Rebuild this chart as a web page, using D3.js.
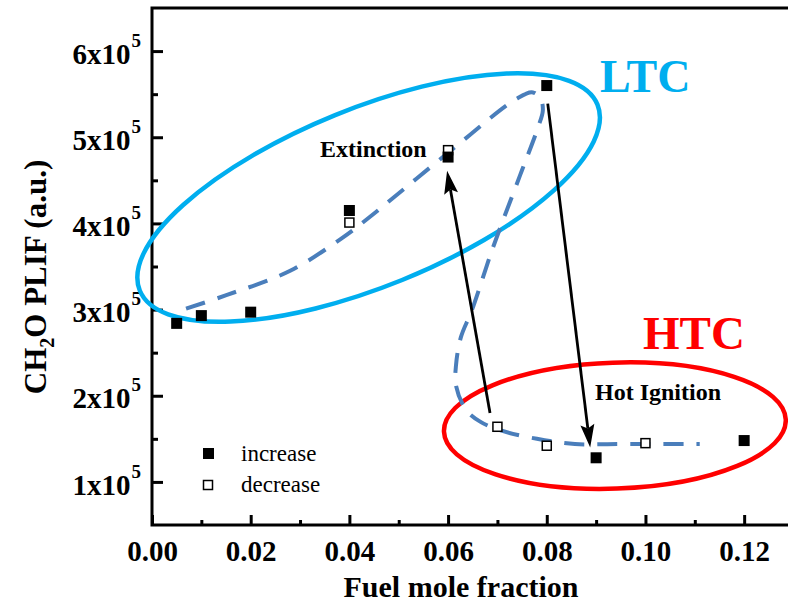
<!DOCTYPE html>
<html>
<head>
<meta charset="utf-8">
<script src="https://cdn.jsdelivr.net/npm/d3@7"></script>
<style>
  html, body { margin: 0; padding: 0; background: #fff; }
  svg { display: block; }
  text { font-family: "Liberation Serif", "Times New Roman", Times, serif; }
</style>
</head>
<body>
<div id="chart"></div>
<script>
// Fuel mole fraction (x) and CH2O PLIF signal (y)
const increaseX = [0.005, 0.01, 0.02, 0.04, 0.06, 0.08, 0.09, 0.12];
const increaseY = [2.84e5, 2.93e5, 2.97e5, 4.15e5, 4.77e5, 5.60e5, 1.28e5, 1.48e5];
const decreaseX = [0.04, 0.06, 0.07, 0.08, 0.10];
const decreaseY = [4.01e5, 4.85e5, 1.64e5, 1.42e5, 1.45e5];

// S-shaped response curve (hand-drawn guide)
const guideX = [0.0069, 0.0152, 0.0280, 0.0385, 0.0438, 0.0598, 0.0740, 0.0772, 0.0788, 0.0792,
                0.0782, 0.0746, 0.0691, 0.0648, 0.0626, 0.0616, 0.0616, 0.0636, 0.0665, 0.0705,
                0.0780, 0.0857, 0.0948, 0.1110];
const guideY = [3.01e5, 3.17e5, 3.45e5, 3.83e5, 4.06e5, 4.81e5, 5.45e5, 5.52e5, 5.44e5, 5.31e5,
                5.11e5, 4.56e5, 3.72e5, 2.99e5, 2.68e5, 2.35e5, 2.12e5, 1.84e5, 1.70e5, 1.60e5,
                1.50e5, 1.44e5, 1.44e5, 1.44e5];

// Jump arrows: [x0, y0, x1, y1]
const extinctionArrow = [0.0685, 1.80e5, 0.0598, 4.61e5];
const ignitionArrow = [0.0802, 5.39e5, 0.0888, 1.40e5];

const xTicks = [0, 0.02, 0.04, 0.06, 0.08, 0.10, 0.12];
const xMinorTicks = [0.01, 0.03, 0.05, 0.07, 0.09, 0.11];
const yTicks = [1, 2, 3, 4, 5, 6];
const yMinorTicks = [1.5, 2.5, 3.5, 4.5, 5.5];

const W = 788, H = 604;
const mLeft = 152, mTop = 8, mRight = 793.5, mBottom = 525;

const svg = d3.select("#chart").append("svg")
  .attr("width", W).attr("height", H);

const x = d3.scaleLinear().domain([0, 0.13]).range([mLeft, mRight]);
const y = d3.scaleLinear().domain([0.5e5, 6.5e5]).range([mBottom, mTop]);

// Frame
svg.append("rect")
  .attr("x", mLeft).attr("y", mTop)
  .attr("width", mRight - mLeft).attr("height", mBottom - mTop)
  .attr("fill", "none").attr("stroke", "#000").attr("stroke-width", 3);

// X axis
const xAxis = svg.append("g").attr("transform", `translate(0,${mBottom})`)
  .call(d3.axisBottom(x).tickValues(xTicks).tickSize(-10).tickSizeOuter(0)
    .tickPadding(15).tickFormat(d3.format(".2f")));
xAxis.select(".domain").remove();
xAxis.selectAll(".tick line").attr("stroke-width", 3);
xAxis.selectAll(".tick text")
  .attr("font-size", 29).attr("font-weight", "bold")
  .attr("font-family", "Liberation Serif, Times New Roman, serif").attr("fill", "#000");

const xMinor = svg.append("g").attr("transform", `translate(0,${mBottom})`)
  .call(d3.axisBottom(x).tickValues(xMinorTicks).tickSize(-5).tickSizeOuter(0).tickFormat(""));
xMinor.select(".domain").remove();
xMinor.selectAll(".tick line").attr("stroke-width", 3);

// Y axis
const yAxis = svg.append("g").attr("transform", `translate(${mLeft},0)`)
  .call(d3.axisLeft(y).tickValues(yTicks.map(v => v * 1e5)).tickSize(-11).tickSizeOuter(0)
    .tickPadding(22).tickFormat(""));
yAxis.select(".domain").remove();
yAxis.selectAll(".tick line").attr("stroke-width", 3);
yAxis.selectAll(".tick text").each(function(d) {
  const t = d3.select(this)
    .attr("font-size", 29).attr("font-weight", "bold").attr("fill", "#000")
    .attr("font-family", "Liberation Serif, Times New Roman, serif")
    .attr("dy", "0.42em");
  t.append("tspan").text(Math.round(d / 1e5) + "x10");
  t.append("tspan").text("5").attr("font-size", 19).attr("dy", -17).attr("dx", 1);
});
yAxis.selectAll(".tick text").attr("x", -11);

const yMinor = svg.append("g").attr("transform", `translate(${mLeft},0)`)
  .call(d3.axisLeft(y).tickValues(yMinorTicks.map(v => v * 1e5)).tickSize(-6).tickSizeOuter(0).tickFormat(""));
yMinor.select(".domain").remove();
yMinor.selectAll(".tick line").attr("stroke-width", 3);

// Axis titles
svg.append("text")
  .attr("x", 461).attr("y", 597)
  .attr("text-anchor", "middle")
  .attr("font-size", 30).attr("font-weight", "bold")
  .text("Fuel mole fraction");

const yTitle = svg.append("text")
  .attr("transform", "translate(46,277) rotate(-90)")
  .attr("text-anchor", "middle")
  .attr("font-size", 31).attr("font-weight", "bold");
yTitle.append("tspan").text("CH");
yTitle.append("tspan").text("2").attr("font-size", 20).attr("dy", 8);
yTitle.append("tspan").text("O PLIF (a.u.)").attr("dy", -8);

// Regime ellipses
const ltcC = [0.0439, 4.30e5];
svg.append("ellipse")
  .attr("cx", x(ltcC[0])).attr("cy", y(ltcC[1]))
  .attr("rx", 247).attr("ry", 89)
  .attr("transform", `rotate(-22.1 ${x(ltcC[0])} ${y(ltcC[1])})`)
  .attr("fill", "none").attr("stroke", "#00aeef").attr("stroke-width", 4.5);

const htcC = [0.0938, 1.653e5];
svg.append("ellipse")
  .attr("cx", x(htcC[0])).attr("cy", y(htcC[1]))
  .attr("rx", 171).attr("ry", 63)
  .attr("transform", `rotate(-2 ${x(htcC[0])} ${y(htcC[1])})`)
  .attr("fill", "none").attr("stroke", "#ff0000").attr("stroke-width", 4.5);

// Dashed S-curve
const guide = guideX.map((v, i) => [v, guideY[i]]);
svg.append("path")
  .attr("d", d3.line().x(d => x(d[0])).y(d => y(d[1])).curve(d3.curveCatmullRom.alpha(0.5))(guide))
  .attr("fill", "none").attr("stroke", "#4a7ebb").attr("stroke-width", 4)
  .attr("stroke-dasharray", "20,13");

// Arrows
function arrow(a) {
  const x0 = x(a[0]), y0 = y(a[1]), x1 = x(a[2]), y1 = y(a[3]);
  const ang = Math.atan2(y1 - y0, x1 - x0);
  const len = 23, half = 7;
  const bx = x1 - len * Math.cos(ang), by = y1 - len * Math.sin(ang);
  svg.append("line")
    .attr("x1", x0).attr("y1", y0).attr("x2", bx + 4 * Math.cos(ang)).attr("y2", by + 4 * Math.sin(ang))
    .attr("stroke", "#000").attr("stroke-width", 2.8);
  const px = -Math.sin(ang), py = Math.cos(ang);
  svg.append("path")
    .attr("d", `M${x1},${y1}L${bx + half * px},${by + half * py}L${bx + 4 * Math.cos(ang)},${by + 4 * Math.sin(ang)}L${bx - half * px},${by - half * py}Z`)
    .attr("fill", "#000");
}
arrow(extinctionArrow);
arrow(ignitionArrow);

// Data markers
svg.append("g").selectAll("rect")
  .data(decreaseX.map((v, i) => [v, decreaseY[i]]))
  .join("rect")
  .attr("x", d => x(d[0]) - 4.5).attr("y", d => y(d[1]) - 4.5)
  .attr("width", 9).attr("height", 9)
  .attr("fill", "#fff").attr("stroke", "#000").attr("stroke-width", 1.5);

svg.append("g").selectAll("rect")
  .data(increaseX.map((v, i) => [v, increaseY[i]]))
  .join("rect")
  .attr("x", d => x(d[0]) - 5.5).attr("y", d => y(d[1]) - 5.5)
  .attr("width", 11).attr("height", 11)
  .attr("fill", "#000");

// Annotations
svg.append("text").attr("x", 320).attr("y", 157)
  .attr("font-size", 24).attr("font-weight", "bold").text("Extinction");
svg.append("text").attr("x", 595).attr("y", 400)
  .attr("font-size", 24).attr("font-weight", "bold").text("Hot Ignition");
svg.append("text").attr("x", 600).attr("y", 92)
  .attr("font-size", 46).attr("font-weight", "bold").attr("fill", "#00aeef").text("LTC");
svg.append("text").attr("x", 643).attr("y", 349)
  .attr("font-size", 47).attr("font-weight", "bold").attr("fill", "#ff0000").text("HTC");

// Legend
const legend = svg.append("g");
legend.append("rect").attr("x", 203).attr("y", 448).attr("width", 11).attr("height", 11).attr("fill", "#000");
legend.append("rect").attr("x", 203.5).attr("y", 480.5).attr("width", 9).attr("height", 9)
  .attr("fill", "#fff").attr("stroke", "#000").attr("stroke-width", 1.5);
legend.append("text").attr("x", 241).attr("y", 461).attr("font-size", 23).text("increase");
legend.append("text").attr("x", 241).attr("y", 492).attr("font-size", 23).text("decrease");
</script>
</body>
</html>
